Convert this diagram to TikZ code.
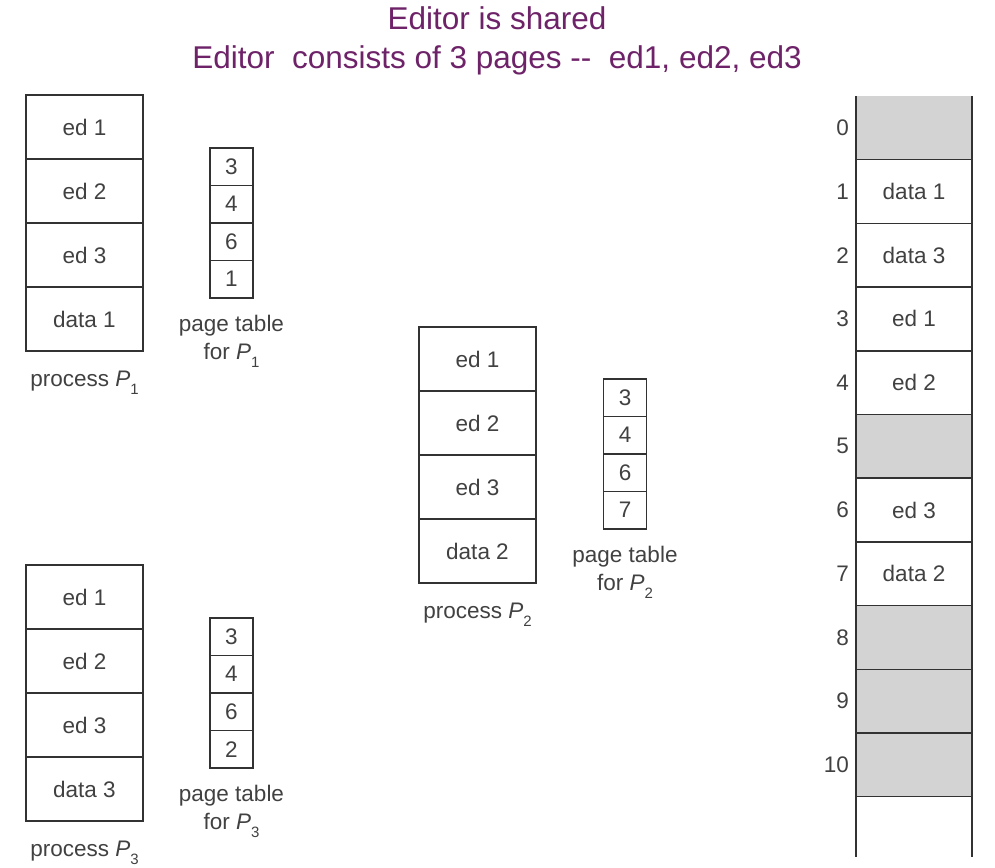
\documentclass[tikz,border=0pt]{standalone}
\usepackage{fontspec}
\setmainfont{Liberation Sans}
\definecolor{linec}{RGB}{50,50,50}
\definecolor{txtc}{RGB}{65,65,65}
\definecolor{grayc}{RGB}{211,211,211}
\definecolor{titlec}{RGB}{110,35,105}
\newcommand\fs{\fontsize{22.5}{26}\selectfont}
\newcommand\Psub[1]{\textit{P}\raisebox{-0.38em}{\fontsize{15}{15}\selectfont #1}}
\tikzset{
  pcell/.style={draw=linec, line width=1.5pt, minimum width=117pt, minimum height=64pt,
    inner sep=0pt, outer sep=0pt, font=\fs, text=txtc, anchor=north},
  tcell/.style={draw=linec, line width=1.5pt, minimum width=43pt, minimum height=37.5pt,
    inner sep=0pt, outer sep=0pt, font=\fs, text=txtc, anchor=north},
  mcell/.style={minimum width=116pt, minimum height=63.7pt, inner sep=0pt, outer sep=0pt,
    font=\fs, text=txtc, anchor=north},
  mfree/.style={mcell, fill=grayc},
  lab/.style={font=\fs, text=txtc, anchor=base, inner sep=0pt},
  mnum/.style={font=\fs, text=txtc, anchor=east, inner sep=0pt},
  mline/.style={draw=linec, line width=1.5pt},
  ttl/.style={font=\fontsize{31.5}{36}\selectfont, text=titlec, anchor=base, inner sep=0pt}
}
\begin{document}
\begin{tikzpicture}[x=1pt,y=-1pt]
\useasboundingbox (0,0) rectangle (995,867);
% title
\node[ttl] (t1) at (497,30) {Editor is shared};
\node[ttl] (t2) at (497,68) {Editor\ \ consists of 3 pages -{}-\ \ ed1, ed2, ed3};
% process P1
\foreach \t [count=\i] in {ed 1,ed 2,ed 3,data 1}
  \node[pcell] (pa\i) at (84.5,{95+64*(\i-1)}) {\t};
\node[lab] (pal) at (84.5,386) {process \Psub{1}};
\foreach \t [count=\i] in {3,4,6,1}
  \node[tcell] (ta\i) at (231.5,{148+37.5*(\i-1)}) {\t};
\node[lab] (tal1) at (231.5,331) {page table};
\node[lab] (tal2) at (231.5,359) {for \Psub{1}};
% process P2
\foreach \t [count=\i] in {ed 1,ed 2,ed 3,data 2}
  \node[pcell] (pb\i) at (477.5,{327+64*(\i-1)}) {\t};
\node[lab] (pbl) at (477.5,618) {process \Psub{2}};
\foreach \t [count=\i] in {3,4,6,7}
  \node[tcell] (tb\i) at (625,{379+37.5*(\i-1)}) {\t};
\node[lab] (tbl1) at (625,562) {page table};
\node[lab] (tbl2) at (625,590) {for \Psub{2}};
% process P3
\foreach \t [count=\i] in {ed 1,ed 2,ed 3,data 3}
  \node[pcell] (pc\i) at (84.5,{565+64*(\i-1)}) {\t};
\node[lab] (pcl) at (84.5,856) {process \Psub{3}};
\foreach \t [count=\i] in {3,4,6,2}
  \node[tcell] (tc\i) at (231.5,{618+37.5*(\i-1)}) {\t};
\node[lab] (tcl1) at (231.5,801) {page table};
\node[lab] (tcl2) at (231.5,829) {for \Psub{3}};
% physical memory
\node[mfree] (m0) at (914,{96+63.7*0}) {};
\node[mcell] (m1) at (914,{96+63.7*1}) {data 1};
\node[mcell] (m2) at (914,{96+63.7*2}) {data 3};
\node[mcell] (m3) at (914,{96+63.7*3}) {ed 1};
\node[mcell] (m4) at (914,{96+63.7*4}) {ed 2};
\node[mfree] (m5) at (914,{96+63.7*5}) {};
\node[mcell] (m6) at (914,{96+63.7*6}) {ed 3};
\node[mcell] (m7) at (914,{96+63.7*7}) {data 2};
\node[mfree] (m8) at (914,{96+63.7*8}) {};
\node[mfree] (m9) at (914,{96+63.7*9}) {};
\node[mfree] (m10) at (914,{96+63.7*10}) {};
\coordinate (mbot) at (914,857);
\foreach \i in {0,...,10} {
  \draw[mline] (m\i.south west) -- (m\i.south east);
  \node[mnum] (n\i) at ([xshift=-7pt]m\i.west) {\i};
}
\draw[mline] (m0.north west) -- (m0.north west |- mbot);
\draw[mline] (m0.north east) -- (m0.north east |- mbot);
\end{tikzpicture}
\end{document}
